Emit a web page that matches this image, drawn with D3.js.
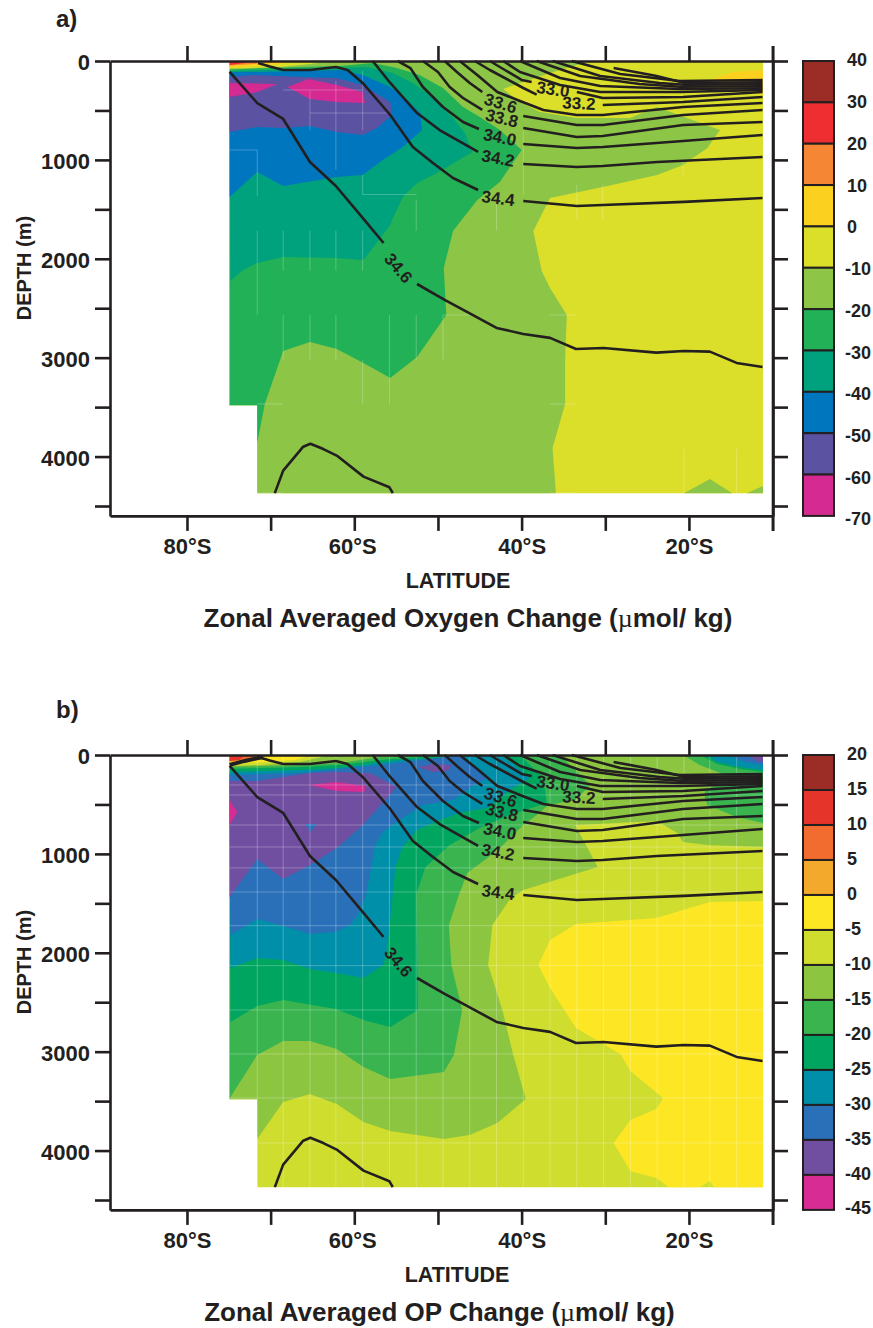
<!DOCTYPE html>
<html><head><meta charset="utf-8">
<style>html,body{margin:0;padding:0;background:#fff}svg{display:block}text{font-family:"Liberation Sans",Arial,sans-serif;fill:#231F20}</style>
<script src="https://cdnjs.cloudflare.com/ajax/libs/d3/7.8.5/d3.min.js"></script>
</head><body><svg id="c" width="873" height="1328"></svg>
<script>
// ---------- shared axes values
const latTicks=[80,70,60,50,40,30,20,10];
const latLabels=[80,60,40,20];
const depthTicks=[0,500,1000,1500,2000,2500,3000,3500,4000,4500];
const depthLabels=[0,1000,2000,3000,4000];
const oceanDomain=[[74.9,0],[11.15,0],[11.15,4370],[71.6,4370],[71.6,3480],[74.9,3480]];
const gridLats=[71.6,68.5,65.3,62.2,59,55.8,52.6,49.4,46.2,43,39.8,36.6,33.4,30.2,27,23.8,20.6,17.5,14.3];
const gridDepths=[303,404,708,930,1142,1385,1726,2130,2578,3023,3468,3923];

// ---------- salinity contours [lat, depth]
const sal346=[[[74.9,110],[71.6,425],[68.5,586],[65.3,1021],[62.2,1264],[59,1587],[56.5,1840]],
 [[52.5,2255],[49.2,2416],[45.7,2575],[43,2699],[39.8,2760],[36.6,2800],[33.5,2912],[30.2,2902],[23.9,2949],[20.6,2932],[17.5,2939],[14.3,3053],[11.2,3094]],
 [[69.5,4370],[68.5,4142],[66.1,3900],[65.25,3870],[63.7,3924],[62.1,3990],[58.9,4203],[55.8,4311],[55.4,4370]]];
const sal344=[[[71.5,20],[70.1,56],[68.5,91],[65.3,91],[62.2,61],[60.8,91],[59,222],[55.7,546],[53,869],[50.6,1031],[48.2,1183],[45.2,1304]],
 [[39.8,1415],[33.4,1466],[30.3,1456],[20.6,1425],[11.2,1385]]];
const sal342=[[[57.8,0],[55.7,222],[52.5,526],[49.8,698],[45.2,920]],[[39.8,1041],[33.4,1072],[30.3,1062],[23.8,1021],[11.2,971]]];
const sal340=[[[54.8,0],[53.3,71],[51.8,263],[49.4,465],[47,617],[45.1,687]],[[39.8,839],[33.4,880],[30.3,869],[20.7,809],[11.2,748]]];
const sal338=[[[51.8,0],[50,111],[48.6,263],[47,374],[44.7,495]],[[39.8,677],[33.4,768],[30.3,758],[20.7,647],[11.2,617]]];
const sal336=[[[49.2,0],[47.6,121],[46.2,222],[44.7,313]],[[39.8,556],[33.4,647],[30.3,647],[20.7,546],[11.2,495]]];
const sal334=[[[47.4,0],[45.3,142],[42.9,313],[40.2,404],[37.4,495],[33.4,546],[30.3,546],[20.7,465],[11.2,425]]];
const sal332=[[[45.6,0],[43.8,91],[39.8,273],[38.2,340]],[[30.3,445],[20.7,415],[11.2,364]]];
const sal330=[[[43.8,0],[42,91],[40,192],[38.8,212]],[[33.4,313],[30.3,374],[20.7,364],[11.2,313]]];
const salUpper=[[[42.2,0],[40.2,111],[35.4,243],[30.6,313],[21.1,313],[11.2,293]],
 [[40.2,0],[35.4,172],[30.6,253],[21.1,283],[11.2,275]],
 [[38.2,0],[33,152],[25.9,233],[21.1,260],[11.2,255]],
 [[36.3,0],[30.6,152],[23.5,222],[20.5,240],[11.2,235]],
 [[34,0],[28.2,131],[21.1,202],[11.2,192]],
 [[29,70],[24,150],[20.5,222],[11.2,215]]];
const salSurfaceB=[[74.9,100],[73.1,60],[70.9,20]];
const salLabels=[["33.0",36.25,283,8],["33.2",33.15,425,3],["33.6",42.5,425,17],["33.8",42.35,576,14],["34.0",42.6,768,11],["34.2",42.8,980,10],["34.4",42.8,1385,7],["34.6",54.7,2093,50]];

// ---------- panel a: oxygen change bands (lat, depth)
const oxLevels=[40,30,20,10,0,-10,-20,-30,-40,-50,-60,-70];
const oxColors=["#9B2D26","#EE2E31","#F58634","#FCD01E","#DBDF2A","#8DC546","#22B156","#00A17D","#0076BF","#5B53A2","#D42A92"];
const oxMinus10=[[31.8,0],[36.6,121],[39.8,212],[42.2,283],[40.2,415],[37.8,516],[33.4,576],[27.05,576],[23.8,465],[16.3,698],[17.8,880],[20.7,1051],[23.8,1153],[30.3,1274],[36.6,1385],[38.6,1719],[37.6,2123],[36.6,2295],[34.6,2568],[34.8,3023],[34.8,3468],[36.3,3913],[35.9,4370],[71.6,4370],[71.6,3480],[74.9,3480],[74.9,0]];
const oxMinus10b=[[20.6,4370],[17.5,4226],[14.8,4370]];
const oxMinus10c=[[13.1,4370],[11.15,4297],[11.15,4370]];
const oxPlus0=[[17.5,192],[14.7,111],[11.15,91],[11.15,334],[13.3,334],[14.5,293]];
const oxMinus20=[[57.8,20],[54.9,71],[52.2,142],[49.4,273],[47,465],[45,566],[42.6,698],[40,900],[42.6,1223],[45.3,1405],[48.2,1719],[49.3,2093],[49,2568],[52.5,2993],[55.7,3205],[58.9,3053],[62.1,2912],[65.3,2841],[68.5,2932],[70.7,3468],[71.6,3862],[71.6,3480],[74.9,3480],[74.9,85],[66.5,61],[61.7,51]];
const oxMinus30=[[58.5,61],[55.4,121],[53,222],[50.6,374],[48.2,576],[46.8,728],[45.9,920],[50.1,1132],[52.5,1233],[54.2,1375],[55.5,1607],[55.7,1658],[58.9,2012],[62.2,1992],[68.5,1982],[71.6,2042],[73.3,2113],[74.8,2224],[74.9,100],[61.7,71]];
const oxMinus40=[[61.4,91],[59,142],[55.7,263],[53.7,394],[52.1,526],[51.9,698],[54.2,869],[56.6,1001],[59,1153],[62.1,1173],[68.5,1264],[71.6,1122],[74.9,1375],[74.9,115],[66.5,101]];
const oxMinus50=[[74.9,718],[71.6,667],[68.5,677],[65.3,657],[62.1,718],[59,748],[57.3,677],[55.5,546],[55.7,415],[59,243],[62.1,172],[66.1,162],[72.1,142],[74.9,162]];
const oxMinus60a=[[74.9,222],[69.2,233],[71.6,313],[74.9,364]];
const oxMinus60b=[[68,263],[65.5,182],[62.1,243],[59,313],[58.7,425],[62.1,415],[65.3,384]];
const oxSurf0=[[74.9,0],[62.9,0],[65.3,30],[68.9,61],[74.9,76]];
const oxSurf10=[[74.9,0],[66.5,0],[68.9,30],[71.3,51],[74.9,66]];
const oxSurf20=[[74.9,0],[70.3,0],[71.9,30],[74.9,46]];
const oxSurf30=[[74.9,0],[72.5,0],[73.1,20],[74.9,40]];
const oxBands=[[oxMinus10,5],[oxMinus10b,5],[oxMinus10c,5],[oxPlus0,3],[oxMinus20,6],[oxMinus30,7],[oxMinus40,8],[oxMinus50,9],[oxMinus60a,10],[oxMinus60b,10],[oxSurf0,4],[oxSurf10,3],[oxSurf20,2],[oxSurf30,1]];
const oxGridV=[[71.6,1716,2568],[68.5,1716,2120],[68.5,2568,3023],[65.3,1716,2120],[65.3,2568,3023],[62.2,1716,2120],[62.2,2568,3023],[59,1716,2120],[59,3023,3468],[55.8,2568,3468],[52.6,1400,1716],[52.6,2568,3023],[49.4,2568,3023],[43,1400,1716],[20.6,3923,4370],[14.3,3923,4370],[71.6,900,1370],[65.3,300,700],[62.2,200,1100],[59,100,700],[59,1150,1350],[39.8,700,1350],[33.4,1250,1600],[30.3,1250,1600],[20.7,1000,1150]];
const oxGridH=[[293,68.5,59],[526,65.3,55.8],[900,74.9,71.6],[1350,59,52.6],[2568,49.4,46.2],[2568,36.6,33.4],[3468,71.6,68.5],[3468,36.6,33.4],[4370,71.6,68.5],[4370,36.6,33.4]];

// ---------- panel b: OP change bands (lat, depth)
const opLevels=[20,15,10,5,0,-5,-10,-15,-20,-25,-30,-35,-40,-45];
const opColors=["#9B2D26","#E5352B","#F26C2F","#F3A92B","#FDE725","#CFDD2E","#8CC540","#39B44F","#00A55F","#008FA8","#2970B8","#704FA0","#D62C93"];
const opPlus0=[[11.15,1476],[17.5,1486],[23.9,1648],[33.5,1709],[36.6,1870],[38,2123],[36.6,2356],[33.5,2760],[28.2,3023],[27,3195],[23.1,3468],[23.9,3579],[27,3690],[29,3923],[27,4206],[23.9,4277],[22.4,4370],[18.7,4370],[17.5,4307],[17,4370],[11.15,4370]];
const opMinus10=[[74.9,0],[11.15,0],[11.15,930],[17.8,910],[20.7,880],[21.4,789],[23.8,667],[33.6,708],[30.9,1132],[39.8,1365],[41.3,1446],[43.5,1719],[44,2123],[42.3,2578],[41,3033],[39.5,3478],[42.9,3720],[46.2,3842],[49.3,3882],[55.7,3801],[58.9,3710],[62.1,3528],[65.3,3427],[68.5,3508],[71.6,3882],[71.6,3480],[74.9,3480]];
const opMinus15=[[35.4,0],[33.6,152],[31.8,303],[33.6,455],[36.8,505],[38.2,607],[39.8,708],[42.6,940],[44.1,1041],[46.5,1193],[47.5,1415],[48.7,1719],[48.4,2123],[47.1,2578],[48.1,3033],[49.3,3205],[55.7,3276],[58.9,3154],[62.1,2972],[65.3,2891],[68.5,2891],[71.6,3033],[74.8,3458],[74.9,3480],[74.9,120],[66.5,101],[61.7,81],[56.9,20],[49.8,0]];
const opMinus15r=[[20.7,0],[11.15,0],[11.15,687],[14.3,627],[17.8,505],[18.1,425],[18.1,354],[14.7,233],[18.7,101]];
const opMinus20=[[40.2,0],[37.8,202],[37.2,354],[37,485],[41.4,607],[45,738],[48.6,910],[51.5,1132],[52.5,1385],[52.6,1415],[52.4,2578],[55.7,2750],[58.9,2679],[62.2,2568],[68.5,2477],[71.6,2538],[74.8,2699],[74.9,140],[66.5,121],[61.7,101],[56.9,51],[52.2,20]];
const opMinus20r=[[18.7,0],[11.15,0],[11.15,172],[13.9,142],[16.6,91]];
const opMinus25=[[42.6,0],[40.8,101],[39,233],[41.4,354],[44.1,536],[47,576],[49.8,657],[52.5,758],[54.3,940],[55.1,1142],[55.4,1415],[56,1921],[56.5,2123],[58.9,2255],[62.2,2204],[65.3,2164],[68.5,2073],[71.6,2052],[74.8,2153],[74.9,172],[66.5,152],[61.7,131],[54.5,51]];
const opMinus25r=[[17.8,0],[11.15,0],[11.15,152],[13.9,121],[16.6,71]];
const opMinus30=[[47.4,0],[45.8,101],[44.1,233],[46.2,334],[48.2,455],[51.8,505],[54.9,677],[56.6,778],[57.5,910],[58.6,1415],[59.6,1618],[60.5,1719],[62.2,1790],[65.3,1810],[68.5,1729],[71.6,1658],[74.8,1820],[74.9,202],[66.5,182],[56.9,101]];
const opMinus30r=[[15.5,0],[11.15,0],[11.15,101],[13.3,71]];
const opMinus35=[[74.9,263],[71.6,263],[65.3,182],[62.1,172],[58.1,182],[54.9,324],[59,708],[62.1,940],[65.3,1112],[68.5,1254],[71.6,1051],[74.9,1436]];
const opMinus35b=[[52.4,121],[50.6,91],[48.3,101],[48.8,162],[50.6,172]];
const opMinus35r=[[13,0],[11.15,0],[11.15,71],[11.9,61]];
const opDot=[[65.9,698],[64.5,698],[65.2,778]];
const opMinus40a=[[74.9,455],[74,576],[74.9,708]];
const opMinus40b=[[65.4,303],[62.1,273],[58.7,313],[58.8,374],[62.1,364]];
const opSurf5=[[74.9,0],[62.9,0],[66.5,71],[71.3,101],[74.9,111]];
const opSurf0=[[73.7,0],[65.1,0],[67.1,51],[70.7,71],[73.7,81]];
const opSurfP5=[[74.9,0],[70.3,0],[71.9,51],[74.9,71]];
const opSurfP10=[[74.9,0],[71.5,0],[72.7,40],[74.9,60]];
const opSurfP15=[[74.9,0],[73.1,0],[73.7,51],[74.9,60]];
const opBands=[[opPlus0,4],[opMinus10,6],[opMinus15,7],[opMinus15r,7],[opMinus20,8],[opMinus20r,8],[opMinus25,9],[opMinus25r,9],[opMinus30,10],[opMinus30r,10],[opMinus35,11],[opMinus35b,11],[opMinus35r,11],[opDot,10],[opMinus40a,12],[opMinus40b,12],[opSurf5,5],[opSurf0,4],[opSurfP5,3],[opSurfP10,2],[opSurfP15,1]];

const INK="#231F20";
const svg=d3.select("#c");
const x=d3.scaleLinear().domain([89.2,10]).range([110,772.6]);

function panel(o){
  const y=d3.scaleLinear().domain([0,4600]).range([o.top,o.top+454.9]);
  const g=svg.append("g");
  const line=d3.line().x(d=>x(d[0])).y(d=>y(d[1]));
  const poly=d=>line(d)+"Z";
  // colour bands
  g.append("path").attr("d",poly(oceanDomain)).attr("fill",o.colors[o.base]);
  o.bands.forEach(([pts,c])=>g.append("path").attr("d",poly(pts)).attr("fill",o.colors[c]));
  // faint grid
  const gg=g.append("g").attr("stroke","#fff").attr("stroke-opacity",o.gridOpacity).attr("stroke-width",1).attr("fill","none");
  o.gridV.forEach(s=>gg.append("path").attr("d",line([[s[0],s[1]],[s[0],s[2]]])));
  o.gridH.forEach(s=>gg.append("path").attr("d",line([[s[1],s[0]],[s[2],s[0]]])));
  // salinity contours
  const cg=g.append("g").attr("fill","none").attr("stroke",INK).attr("stroke-width",2.6).attr("stroke-linejoin","round");
  [sal346,sal344,sal342,sal340,sal338,sal336,sal334,sal332,sal330,salUpper].forEach(set=>set.forEach(s=>cg.append("path").attr("d",line(s))));
  if(o.extra) cg.append("path").attr("d",line(o.extra)).attr("stroke-width",4);
  salLabels.forEach(l=>{
    g.append("text").attr("transform",`translate(${x(l[1])},${y(l[2])}) rotate(${l[3]})`)
     .attr("text-anchor","middle").attr("dy","0.36em").attr("font-size",17).attr("font-weight","bold").text(l[0]);
  });
  // axes
  const style=a=>{a.selectAll("line").attr("stroke",INK).attr("stroke-width",2.6);a.selectAll("path.domain").attr("stroke",INK).attr("stroke-width",2.6);a.selectAll("text").attr("fill",INK).attr("font-size",22).attr("font-weight","bold");};
  const fmtLat=d=>latLabels.includes(d)?d+"°S":"";
  const fmtDep=d=>depthLabels.includes(d)?d:"";
  const left=g.append("g").attr("transform","translate(110,0)").call(d3.axisLeft(y).tickValues(depthTicks).tickFormat(fmtDep).tickSize(15).tickSizeOuter(0).tickPadding(5)).call(style);
  left.selectAll("text").attr("dy","0.4em");
  g.append("g").attr("transform",`translate(773,0)`).call(d3.axisRight(y).tickValues(depthTicks).tickFormat("").tickSize(15).tickSizeOuter(0)).call(style);
  g.append("g").attr("transform",`translate(0,${o.top})`).call(d3.axisTop(x).tickValues(latTicks).tickFormat("").tickSize(15).tickSizeOuter(0)).call(style);
  const bot=g.append("g").attr("transform",`translate(0,${o.top+454.9})`).call(d3.axisBottom(x).tickValues(latTicks).tickFormat(fmtLat).tickSize(15).tickSizeOuter(0).tickPadding(6)).call(style);
  bot.selectAll("text").attr("dy","0.78em").attr("dx",d=>d===60?-2:0);
  g.append("line").attr("x1",773).attr("x2",773).attr("y1",o.top-15).attr("y2",o.top+470).attr("stroke",INK).attr("stroke-width",2.6);
  // legend
  const ly=d3.scalePoint().domain(o.levels).range([o.top,o.top+454.9]);
  const ky=d3.scalePoint().domain(o.levels).range([o.top-1,o.top+o.labelSpan]);
  o.colors.forEach((c,i)=>{
    g.append("rect").attr("x",803).attr("width",31).attr("y",ly(o.levels[i])).attr("height",ly(o.levels[i+1])-ly(o.levels[i])).attr("fill",c).attr("stroke",INK).attr("stroke-width",2);
  });
  o.levels.forEach(v=>g.append("text").attr("x",v<0?845:847).attr("y",ky(v)).attr("dy","0.36em").attr("font-size",18).attr("font-weight","bold").text(v));
  // text
  g.append("text").attr("x",56).attr("y",o.tagY).attr("font-size",24).attr("font-weight","bold").text(o.tag);
  g.append("text").attr("transform",`translate(31,${o.top+207}) rotate(-90)`).attr("text-anchor","middle").attr("font-size",20).attr("font-weight","bold").text("DEPTH (m)");
  g.append("text").attr("x",o.latX).attr("y",o.top+527).attr("text-anchor","middle").attr("font-size",21.5).attr("font-weight","bold").text("LATITUDE");
  const t=g.append("text").attr("x",o.titleX).attr("y",o.top+o.titleDy).attr("text-anchor","middle").attr("font-size",26).attr("font-weight","bold");
  t.append("tspan").text(o.title+" (");
  t.append("tspan").attr("font-family","'Liberation Serif',serif").attr("font-weight","normal").text("µ");
  t.append("tspan").text("mol/ kg)");
}

const allGridV=gridLats.map(l=>[l,20,4370]);
const allGridH=gridDepths.map(d=>[d,d>3480?71.6:74.9,11.15]);
panel({top:61,base:4,colors:oxColors,levels:oxLevels,bands:oxBands,gridV:oxGridV,gridH:oxGridH,gridOpacity:0.24,tag:"a)",tagY:27,latX:458,titleX:468,titleDy:566,title:"Zonal Averaged Oxygen Change",labelSpan:458});
panel({top:755,base:5,colors:opColors,levels:opLevels,bands:opBands,gridV:allGridV,gridH:allGridH,gridOpacity:0.26,extra:salSurfaceB,tag:"b)",tagY:718,latX:457,titleX:439.5,titleDy:566,title:"Zonal Averaged OP Change",labelSpan:453});
</script></body></html>
